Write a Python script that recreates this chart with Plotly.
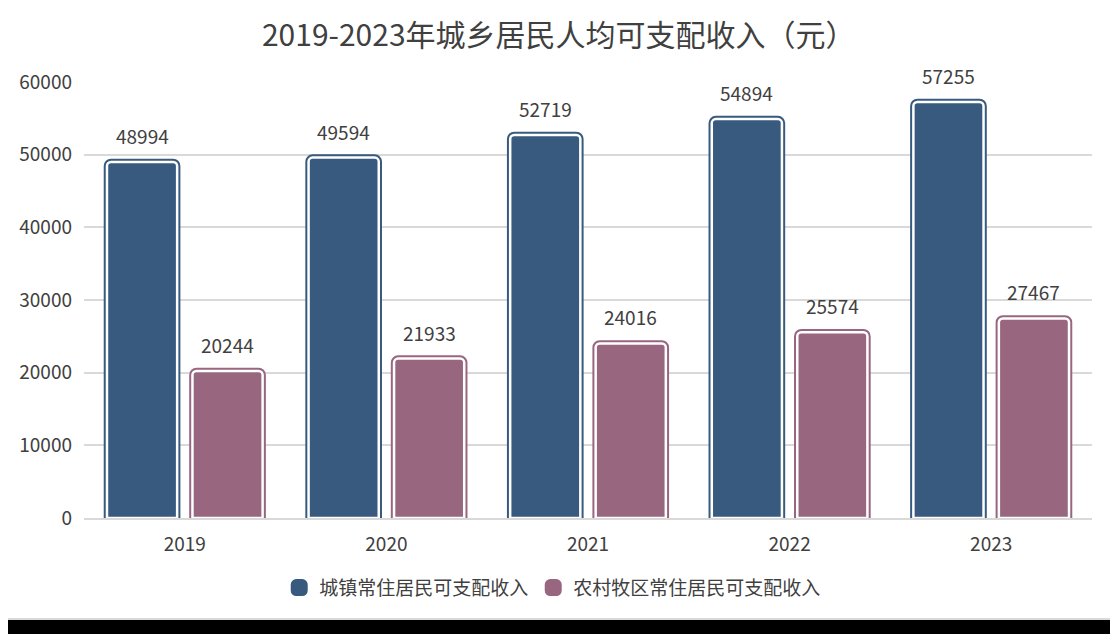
import plotly.graph_objects as go

years = ["2019", "2020", "2021", "2022", "2023"]
urban = [48994, 49594, 52719, 54894, 57255]
rural = [20244, 21933, 24016, 25574, 27467]
series_names = ["城镇常住居民可支配收入", "农村牧区常住居民可支配收入"]
title_text = "2019-2023年城乡居民人均可支配收入（元）"
y_ticks = [0, 10000, 20000, 30000, 40000, 50000, 60000]
y_ticktext = ["0", "10000", "20000", "30000", "40000", "50000", "60000"]

BLUE = "#375A7E"
PINK = "#98667F"
TXT = "#404040"
FONT = "Noto Sans CJK SC"

idx = list(range(len(years)))
BW = 0.348
OFFS = [-0.386, 0.038]

fig = go.Figure()
for vals, name, color, off in zip([urban, rural], series_names, [BLUE, PINK], OFFS):
    # outer coloured rim
    fig.add_trace(go.Bar(
        x=idx, y=vals, name=name, width=BW, offset=off,
        marker=dict(color=color, line=dict(color=color, width=6.5), cornerradius=4),
        showlegend=True, legendgroup=name, hoverinfo="skip"))
    # inner fill with white ring
    fig.add_trace(go.Bar(
        x=idx, y=vals, name=name, width=BW, offset=off,
        marker=dict(color=color, line=dict(color="white", width=2.5), cornerradius=4),
        showlegend=False, legendgroup=name))
    for i, v in zip(idx, vals):
        fig.add_annotation(x=i + off + BW / 2, y=v, xref="x", yref="y",
                           text=str(v), showarrow=False, yanchor="bottom",
                           yshift=11, font=dict(family=FONT, size=19, color=TXT))

# white card with light grey border on black surround
fig.add_shape(type="rect", xref="paper", yref="paper", layer="below",
              x0=-0.2, x1=1.0238, y0=-0.2317, y1=1.3,
              fillcolor="white", line=dict(color="#d9d9d9", width=2))

fig.update_layout(
    width=1118, height=634,
    margin=dict(l=76, r=34, t=74, b=124),
    paper_bgcolor="black", plot_bgcolor="rgba(0,0,0,0)",
    barmode="overlay",
    title=dict(text=title_text, x=0.471, xref="paper", xanchor="center",
               y=0.9574, yanchor="middle",
               font=dict(family=FONT, size=30, color=TXT)),
    font=dict(family=FONT, size=19, color=TXT),
    legend=dict(orientation="h", x=0.465, xanchor="center", y=-0.16, yanchor="middle",
                font=dict(family=FONT, size=19, color=TXT),
                bgcolor="rgba(0,0,0,0)", itemwidth=30, tracegroupgap=0),
    xaxis=dict(range=[-0.5, 4.5], tickmode="array", tickvals=idx, ticktext=years,
               showgrid=False, zeroline=False, showline=True, linecolor="#d9d9d9",
               linewidth=2, ticks="", ticklabelstandoff=8,
               tickfont=dict(family=FONT, size=19, color=TXT)),
    yaxis=dict(range=[0, 60000], tickmode="array",
               tickvals=y_ticks, ticktext=y_ticktext,
               showgrid=True, gridcolor="#d9d9d9", gridwidth=2, zeroline=False,
               showline=False, ticks="", ticklabelstandoff=11,
               tickfont=dict(family=FONT, size=19, color=TXT)),
    showlegend=True,
)

fig.write_html("out.html")
